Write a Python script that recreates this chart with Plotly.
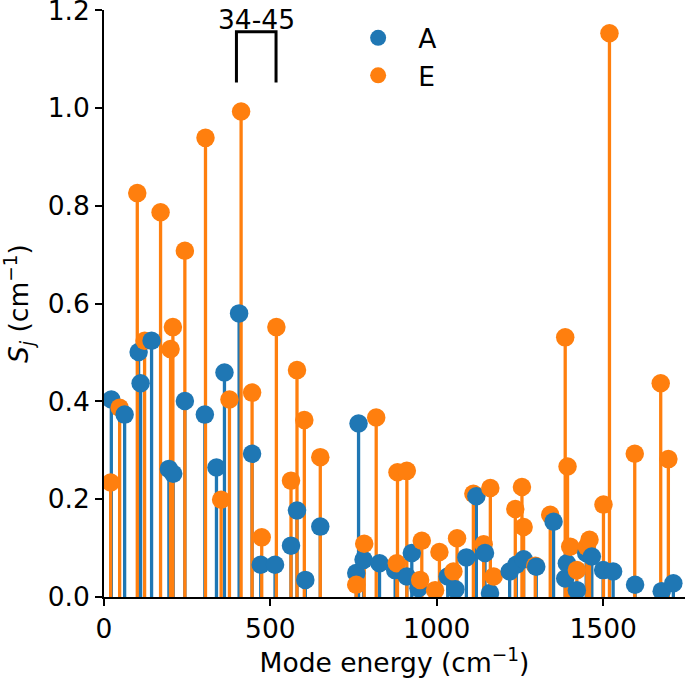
import plotly.graph_objects as go

# ---- data: mode energies (cm^-1) and Huang-Rhys-like factors S_j ----
A_energy = [22, 62, 104, 110, 143, 195, 208, 243, 303, 338, 362, 406, 445, 471, 514,
            562, 580, 605, 650, 758, 765, 780, 828, 875, 910, 925, 945, 1033, 1056,
            1089, 1119, 1145, 1160, 1219, 1239, 1261, 1299, 1351, 1386, 1391, 1421,
            1449, 1466, 1500, 1530, 1596, 1676, 1711]
A_S = [0.404, 0.373, 0.501, 0.437, 0.524, 0.262, 0.252, 0.401, 0.373, 0.265, 0.459,
       0.580, 0.293, 0.066, 0.066, 0.105, 0.177, 0.035, 0.144, 0.049, 0.355, 0.076,
       0.069, 0.055, 0.042, 0.090, 0.018, 0.042, 0.016, 0.081, 0.206, 0.090, 0.008,
       0.052, 0.066, 0.077, 0.062, 0.154, 0.038, 0.069, 0.014, 0.090, 0.083, 0.055,
       0.052, 0.025, 0.012, 0.028]

E_energy = [20, 47, 100, 122, 170, 200, 207, 243, 305, 352, 377, 412, 445, 474, 518,
            562, 580, 602, 650, 758, 782, 818, 880, 882, 910, 950, 955, 995, 1008,
            1050, 1061, 1110, 1141, 1161, 1171, 1236, 1256, 1261, 1296, 1341, 1386,
            1393, 1401, 1421, 1451, 1459, 1501, 1519, 1595, 1673, 1696]
E_S = [0.234, 0.387, 0.826, 0.524, 0.787, 0.507, 0.552, 0.708, 0.939, 0.199, 0.404,
       0.993, 0.418, 0.122, 0.552, 0.238, 0.464, 0.362, 0.286, 0.025, 0.109, 0.367,
       0.069, 0.255, 0.258, 0.035, 0.115, 0.014, 0.092, 0.052, 0.120, 0.211, 0.108,
       0.223, 0.042, 0.180, 0.225, 0.143, 0.064, 0.168, 0.531, 0.267, 0.103, 0.055,
       0.103, 0.117, 0.189, 1.153, 0.293, 0.437, 0.282]

x_ticks = [0, 500, 1000, 1500]
y_ticks = [0.0, 0.2, 0.4, 0.6, 0.8, 1.0, 1.2]

bracket_label = "34-45"
bracket_x = [398, 517]
bracket_y = [1.052, 1.156]

BLUE = "#1f77b4"
ORANGE = "#ff7f0e"
FONT = "DejaVu Sans"
FS = 26.5


def stems(xs, ys):
    sx, sy = [], []
    for xv, yv in zip(xs, ys):
        sx += [xv, xv, None]
        sy += [0, yv, None]
    return sx, sy


fig = go.Figure()
ax, ay = stems(A_energy, A_S)
ex, ey = stems(E_energy, E_S)
fig.add_trace(go.Scatter(x=ax, y=ay, mode="lines", line=dict(color=BLUE, width=3.3),
                         showlegend=False, hoverinfo="skip"))
fig.add_trace(go.Scatter(x=ex, y=ey, mode="lines", line=dict(color=ORANGE, width=3.3),
                         showlegend=False, hoverinfo="skip"))

# markers ordered by mode energy (as if drawn mode by mode)
pts = [(e, s, BLUE) for e, s in zip(A_energy, A_S)] + \
      [(e, s, ORANGE) for e, s in zip(E_energy, E_S)]
pts.sort(key=lambda p: p[0])
fig.add_trace(go.Scatter(x=[p[0] for p in pts], y=[p[1] for p in pts], mode="markers",
                         marker=dict(size=18.5, color=[p[2] for p in pts], line=dict(width=0)),
                         showlegend=False))

# legend entries
fig.add_trace(go.Scatter(x=[None], y=[None], mode="markers", name="A",
                         marker=dict(size=18, color=BLUE)))
fig.add_trace(go.Scatter(x=[None], y=[None], mode="markers", name="E",
                         marker=dict(size=18, color=ORANGE)))

# bracket for modes 34-45
fig.add_trace(go.Scatter(x=[bracket_x[0], bracket_x[0], bracket_x[1], bracket_x[1]],
                         y=[bracket_y[0], bracket_y[1], bracket_y[1], bracket_y[0]],
                         mode="lines", line=dict(color="black", width=3),
                         showlegend=False, hoverinfo="skip", cliponaxis=False))
fig.add_annotation(x=sum(bracket_x) / 2, y=bracket_y[1], text=bracket_label,
                   showarrow=False, yanchor="bottom", yshift=-5,
                   font=dict(family=FONT, size=FS, color="black"))

axis_common = dict(showline=True, linecolor="black", linewidth=1.6, ticks="outside",
                   ticklen=7, tickwidth=1.6, tickcolor="black", showgrid=False,
                   zeroline=False, tickfont=dict(family=FONT, size=FS, color="black"),
                   mirror=False, ticklabeloverflow="allow", automargin=False)

fig.update_xaxes(range=[0, 1746], tickvals=x_ticks,
                 title=dict(text="Mode energy (cm<sup>−1</sup>)",
                            font=dict(family=FONT, size=FS, color="black"), standoff=6),
                 **axis_common)
fig.update_yaxes(range=[0, 1.2005], tickvals=y_ticks, tickformat=".1f",
                 title=dict(text="<i>S<sub>j</sub></i> (cm<sup>−1</sup>)",
                            font=dict(family=FONT, size=FS, color="black"), standoff=12),
                 **axis_common)

fig.update_layout(
    width=685, height=679,
    margin=dict(l=104, r=0, t=10, b=82, autoexpand=False),
    plot_bgcolor="white", paper_bgcolor="white",
    font=dict(family=FONT, size=FS, color="black"),
    legend=dict(x=0.403, y=0.993, xanchor="left", yanchor="top",
                bgcolor="rgba(0,0,0,0)", font=dict(family=FONT, size=FS),
                itemwidth=70, tracegroupgap=0),
    showlegend=True,
)

# remove the page's default body margin so the figure sits at the window's corner
fig.write_html("out.html", config={"displayModeBar": False},
               post_script="document.body.style.margin='0';document.body.style.overflow='hidden';")
